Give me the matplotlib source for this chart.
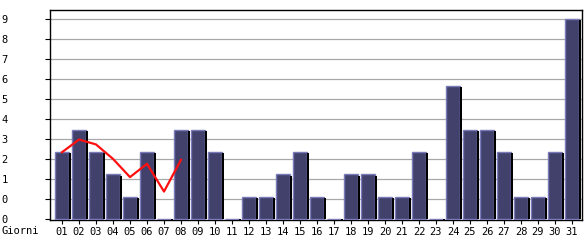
import numpy as np
import matplotlib
matplotlib.use('Agg')
import matplotlib.pyplot as plt

# dati: visite per giorno
giorni = ['%02d' % d for d in range(1, 32)]
visite = [3, 4, 3, 2, 1, 3, 0, 4, 4, 3, 0, 1, 1, 2, 3, 1, 0, 2, 2, 1, 1, 3, 0, 6, 4, 4, 3, 1, 1, 3, 9]
# media (linea rossa), solo primi 8 giorni
media = [3.0, 3.57, 3.35, 2.7, 1.88, 2.48, 1.23, 2.66]
yticks = [0, 0.9, 1.8, 2.7, 3.6, 4.5, 5.4, 6.3, 7.2, 8.1, 9.0]
ytick_lab = [str(int(v)) for v in yticks]

fig = plt.figure(figsize=(5.85, 2.40), dpi=100)
ax = fig.add_axes([50/585, 20/240, 532/585, 210/240])

x = np.arange(1, 32)
w = 14/17.
sh = 2/17.
ax.bar(x, visite, width=w, color='#41416b', edgecolor='#7a7ab8', linewidth=1.0, zorder=3)
ax.bar(x + w/2 + sh/2, np.array(visite) - 0.05, width=sh, color='black', linewidth=0, zorder=3)

ax.plot(x[:len(media)], media, color='#ff1010', linewidth=1.6, zorder=4)

ax.set_xlim(1 - 12/17, 1 + 520/17)
ax.set_ylim(-0.05, 9.4)
ax.set_yticks(yticks)
ax.set_yticklabels(ytick_lab, family='DejaVu Sans Mono', fontsize=7.5)
ax.set_xticks(x)
ax.set_xticklabels(giorni, family='DejaVu Sans Mono', fontsize=7.5)
ax.tick_params(axis='y', length=3.6, width=0.8, pad=27)
ax.tick_params(axis='x', length=3.2, width=0.8, pad=1.5)
for v in yticks[1:]:
    ax.axhline(v, color='#a8a8a8', linewidth=0.9, zorder=1)
for s in ax.spines.values():
    s.set_linewidth(1.0)
    s.set_color('black')

fig.text(2/585, 1 - 231/240, 'Giorni', family='DejaVu Sans Mono', fontsize=7.5, va='center')

plt.savefig('out.png', dpi=100)
